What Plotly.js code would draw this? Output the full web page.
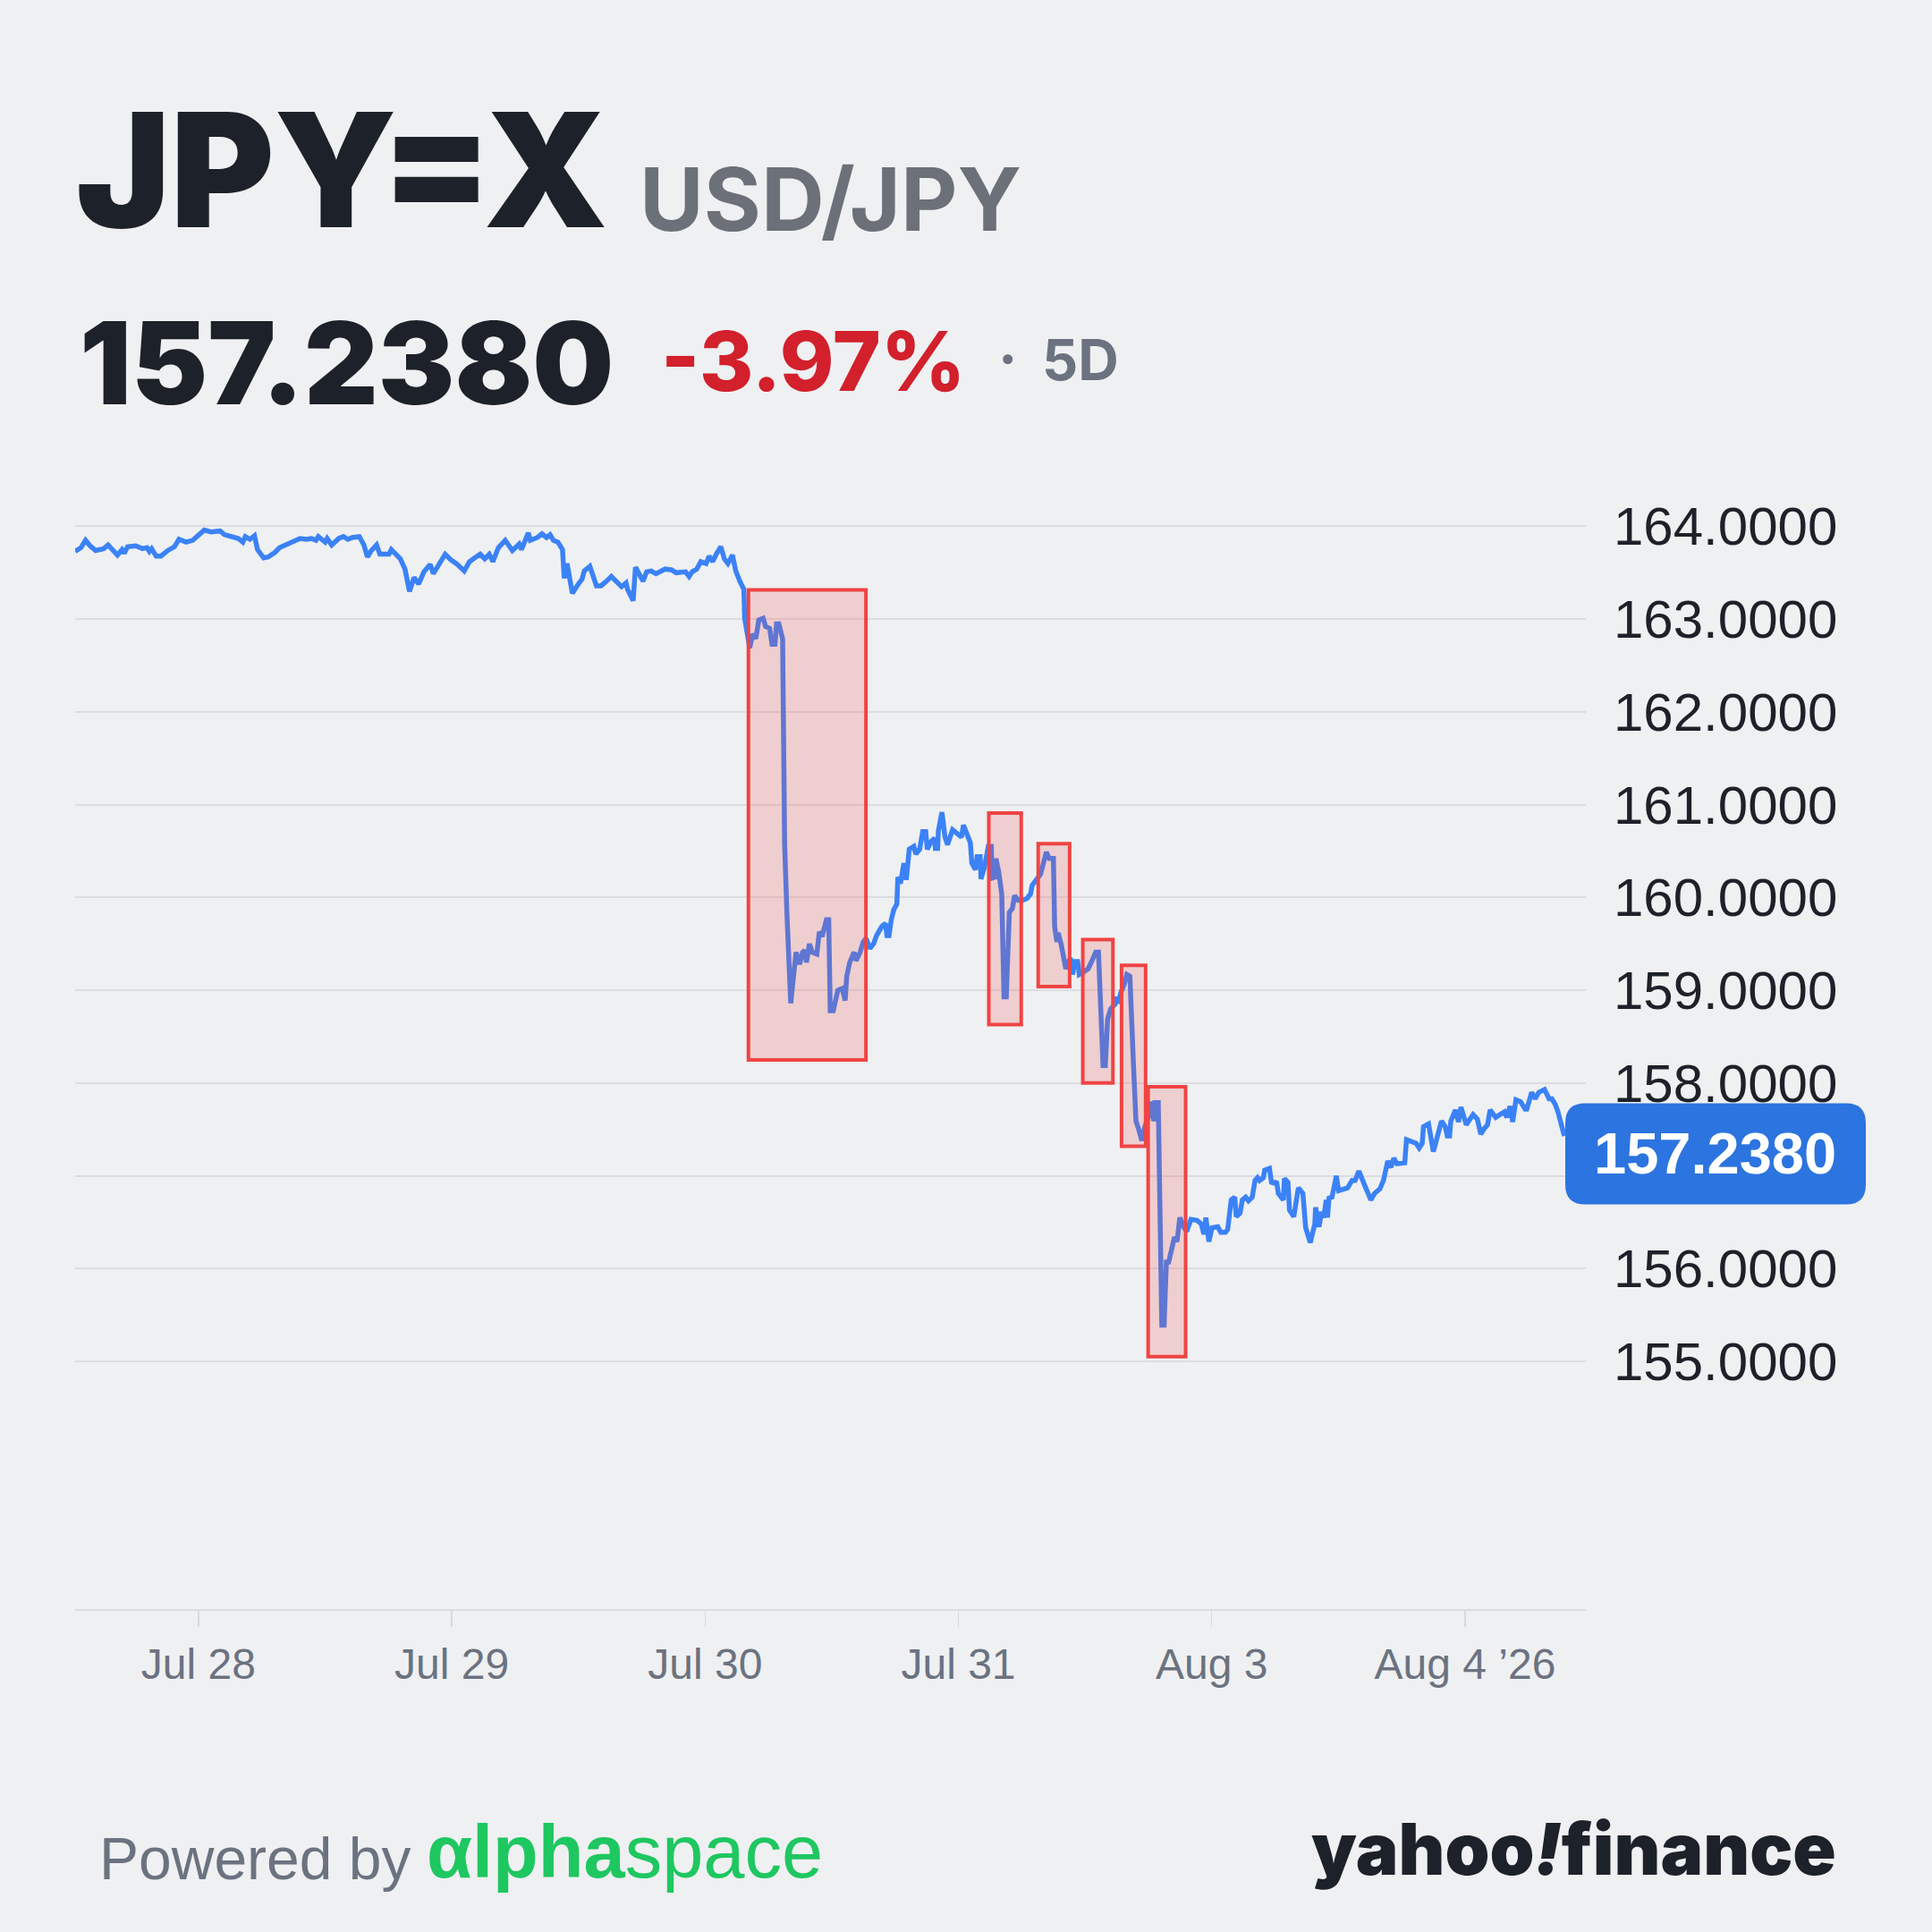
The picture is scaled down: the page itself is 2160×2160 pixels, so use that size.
<!DOCTYPE html>
<html><head><meta charset="utf-8">
<script src="https://cdn.plot.ly/plotly-3.0.1.min.js"></script>
<style>html,body{margin:0;padding:0;background:#eff0f2;}#chart{width:2160px;height:2160px;}</style>
</head><body><div id="chart"></div>
<script>
// ---- data (trading-day offset from Jul 28, USD/JPY rate) ----
const dayPos = [
-0.487,-0.464,-0.446,-0.428,-0.406,-0.374,-0.357,-0.320,-0.302,-0.293,
-0.280,-0.248,-0.221,-0.203,-0.194,-0.185,-0.167,-0.148,-0.121,-0.095,
-0.077,-0.049,-0.023,0.005,0.023,0.049,0.085,0.103,0.139,0.157,
0.175,0.185,0.203,0.221,0.233,0.257,0.275,0.302,0.320,0.347,
0.365,0.401,0.427,0.446,0.464,0.473,0.500,0.508,0.526,0.554,
0.572,0.590,0.607,0.635,0.653,0.667,0.680,0.703,0.716,0.752,
0.761,0.779,0.797,0.815,0.833,0.851,0.869,0.890,0.915,0.927,
0.950,0.974,0.996,1.022,1.049,1.070,1.095,1.112,1.130,1.148,
1.162,1.184,1.211,1.229,1.239,1.266,1.275,1.302,1.310,1.338,
1.356,1.374,1.388,1.401,1.419,1.437,1.444,1.455,1.476,1.500,
1.514,1.523,1.545,1.571,1.589,1.607,1.630,1.670,1.688,1.694,
1.716,1.725,1.743,1.755,1.769,1.787,1.806,1.824,1.842,1.868,
1.886,1.923,1.937,1.949,1.967,1.983,2.004,2.016,2.030,2.044,
2.062,2.076,2.090,2.108,2.121,2.137,2.153,2.156,2.168,2.176,
2.188,2.200,2.212,2.229,2.239,2.255,2.264,2.276,2.282,2.291,
2.306,2.312,2.314,2.323,2.338,2.347,2.359,2.373,2.385,2.394,
2.400,2.412,2.423,2.441,2.451,2.462,2.479,2.488,2.494,2.506,
2.518,2.524,2.541,2.553,2.559,2.571,2.588,2.596,2.612,2.624,
2.635,2.651,2.665,2.677,2.698,2.712,2.718,2.726,2.735,2.745,
2.757,2.761,2.771,2.785,2.794,2.806,2.824,2.832,2.847,2.859,
2.871,2.877,2.894,2.906,2.909,2.918,2.921,2.935,2.947,2.957,
2.977,2.994,3.012,3.020,3.036,3.047,3.053,3.067,3.074,3.086,
3.089,3.103,3.118,3.130,3.133,3.145,3.148,3.159,3.171,3.180,
3.189,3.195,3.201,3.213,3.222,3.236,3.253,3.271,3.285,3.291,
3.306,3.324,3.333,3.347,3.359,3.375,3.380,3.389,3.394,3.406,
3.424,3.442,3.451,3.459,3.471,3.477,3.495,3.512,3.526,3.542,
3.553,3.565,3.571,3.580,3.589,3.601,3.619,3.624,3.630,3.642,
3.654,3.665,3.677,3.691,3.701,3.712,3.724,3.736,3.754,3.763,
3.771,3.775,3.789,3.795,3.803,3.812,3.821,3.830,3.842,3.853,
3.863,3.874,3.889,3.901,3.918,3.942,3.959,3.969,3.977,3.989,
4.001,4.018,4.024,4.036,4.054,4.063,4.071,4.077,4.091,4.097,
4.112,4.121,4.134,4.145,4.160,4.171,4.181,4.189,4.204,4.209,
4.228,4.236,4.248,4.256,4.263,4.283,4.287,4.301,4.307,4.324,
4.342,4.360,4.371,4.389,4.407,4.410,4.424,4.433,4.442,4.452,
4.457,4.463,4.475,4.492,4.501,4.536,4.554,4.566,4.581,4.595,
4.628,4.643,4.664,4.678,4.695,4.707,4.719,4.731,4.748,4.762,
4.769,4.789,4.807,4.819,4.831,4.836,4.856,4.875,4.889,4.907,
4.922,4.930,4.939,4.944,4.962,4.974,4.984,5.005,5.017,5.032,
5.049,5.062,5.076,5.089,5.099,5.121,5.138,5.156,5.165,5.178,
5.188,5.201,5.219,5.237,5.244,5.263,5.277,5.291,5.314,5.332,
5.343,5.356,5.367,5.380,5.392
];
const rates = [
163.73,163.77,163.85,163.79,163.74,163.76,163.80,163.69,163.75,163.71,
163.78,163.79,163.76,163.77,163.73,163.76,163.68,163.68,163.74,163.78,
163.86,163.83,163.85,163.91,163.96,163.94,163.95,163.91,163.88,163.87,
163.83,163.89,163.86,163.90,163.75,163.66,163.67,163.72,163.77,163.80,
163.83,163.87,163.86,163.87,163.85,163.89,163.83,163.87,163.80,163.87,
163.89,163.86,163.88,163.89,163.80,163.67,163.73,163.80,163.70,163.70,
163.75,163.69,163.65,163.54,163.30,163.45,163.38,163.51,163.59,163.49,
163.59,163.70,163.64,163.59,163.52,163.62,163.67,163.70,163.65,163.70,
163.62,163.77,163.85,163.78,163.74,163.81,163.75,163.93,163.85,163.88,
163.92,163.88,163.91,163.85,163.83,163.75,163.44,163.60,163.28,163.38,
163.43,163.52,163.57,163.36,163.36,163.40,163.46,163.35,163.39,163.32,
163.20,163.56,163.48,163.41,163.51,163.52,163.49,163.51,163.54,163.53,
163.50,163.51,163.46,163.51,163.54,163.62,163.60,163.68,163.62,163.70,
163.78,163.65,163.60,163.69,163.52,163.41,163.32,163.01,162.79,162.69,
162.84,162.79,162.99,163.01,162.92,162.90,162.73,162.73,162.95,162.95,
162.79,161.68,160.57,159.83,158.86,159.10,159.41,159.28,159.41,159.43,
159.30,159.50,159.41,159.39,159.63,159.58,159.76,159.76,158.78,158.78,
158.91,159.00,159.02,158.89,159.15,159.30,159.41,159.32,159.41,159.52,
159.56,159.45,159.50,159.59,159.69,159.72,159.59,159.59,159.76,159.87,
159.93,160.22,160.15,160.37,160.19,160.52,160.55,160.47,160.52,160.71,
160.71,160.52,160.61,160.64,160.53,160.53,160.72,160.92,160.65,160.57,
160.73,160.69,160.65,160.78,160.68,160.59,160.37,160.30,160.44,160.44,
160.20,160.33,160.55,160.55,160.21,160.22,160.42,160.28,160.04,158.93,
158.93,159.55,159.84,159.88,160.02,159.97,159.97,159.99,160.04,160.13,
160.18,160.25,160.34,160.49,160.42,160.42,159.68,159.52,159.62,159.49,
159.23,159.35,159.17,159.31,159.31,159.17,159.20,159.23,159.31,159.41,
159.41,158.69,158.19,158.19,158.69,158.80,158.85,158.93,158.86,158.98,
159.06,159.17,159.15,158.20,157.59,157.50,157.38,157.53,157.66,157.80,
157.59,157.79,157.79,156.76,155.39,155.39,156.07,156.07,156.20,156.34,
156.29,156.55,156.45,156.40,156.53,156.52,156.48,156.37,156.55,156.29,
156.44,156.44,156.45,156.39,156.39,156.42,156.65,156.74,156.77,156.56,
156.60,156.74,156.77,156.73,156.77,156.95,156.98,156.95,156.98,157.06,
157.08,156.93,156.92,156.94,156.81,156.74,156.97,156.93,156.63,156.56,
156.87,156.81,156.44,156.28,156.48,156.66,156.45,156.61,156.55,156.74,
156.55,156.76,156.77,157.00,156.84,156.87,156.95,156.95,157.05,156.95,
156.74,156.81,156.86,156.95,157.16,157.09,157.19,157.13,157.13,157.14,
157.39,157.37,157.35,157.30,157.35,157.53,157.56,157.26,157.40,157.59,
157.53,157.43,157.43,157.59,157.71,157.58,157.74,157.55,157.60,157.66,
157.61,157.45,157.51,157.55,157.71,157.63,157.66,157.69,157.63,157.75,
157.58,157.82,157.80,157.72,157.72,157.90,157.83,157.90,157.93,157.83,
157.83,157.77,157.69,157.53,157.43
];
const tickDays = [0, 1, 2, 3, 4, 5];
const tickLabels = ["Jul 28", "Jul 29", "Jul 30", "Jul 31", "Aug 3", "Aug 4 \u201926"];
const priceTicks = [155, 156, 157, 158, 159, 160, 161, 162, 163, 164];
// highlighted drop zones
const boxStart = [2.171, 3.120, 3.315, 3.491, 3.644, 3.749];
const boxEnd   = [2.635, 3.248, 3.439, 3.610, 3.739, 3.897];
const boxLow   = [158.25, 158.63, 159.04, 158.00, 157.32, 155.05];
const boxHigh  = [163.315, 160.91, 160.58, 159.545, 159.27, 157.96];
const symbol = "JPY=X", pairName = "USD/JPY", lastPrice = 157.2380, changePct = -3.97, periodLabel = "5D";

// ---- layout geometry ----
const W = 2160, H = 2160, L = 84, R = 1773, T = 547, B = 1799;
const yMin = 152.33, yMax = 164.4, xMin = -0.487, xMax = 5.477;
const xp = px => (px - L) / (R - L);
const yp = py => (B - py) / (B - T);
const SANS = "Liberation Sans, Arial, sans-serif";
const HEAVY = "Inter, Liberation Sans, sans-serif";

function txt(text, x, y, size, color, weight, family, xanchor) {
  return {text: text, x: xp(x), y: yp(y), xref: 'paper', yref: 'paper',
    xanchor: xanchor || 'left', yanchor: 'middle', showarrow: false, borderpad: 0,
    font: {size: size, color: color, weight: weight, family: family}};
}

const shapes = boxStart.map((s, i) => ({
  type: 'rect', xref: 'x', yref: 'y', x0: s, x1: boxEnd[i], y0: boxLow[i], y1: boxHigh[i],
  fillcolor: 'rgba(239,68,68,0.2)', line: {color: '#ef4444', width: 4}, layer: 'above'
}));

// rounded price tag
const tagYc = (lastPrice - yMin) / (yMax - yMin);
const hh = 56.5 / (B - T), x0 = xp(1750), x1 = xp(2086), rx = 22 / (R - L), ry = 22 / (B - T);
const y0 = tagYc - hh, y1 = tagYc + hh;
shapes.push({
  type: 'path', xref: 'paper', yref: 'paper', layer: 'above', fillcolor: '#2c74df', line: {width: 0},
  path: `M ${x0+rx},${y1} L ${x1-rx},${y1} Q ${x1},${y1} ${x1},${y1-ry} L ${x1},${y0+ry} Q ${x1},${y0} ${x1-rx},${y0} L ${x0+rx},${y0} Q ${x0},${y0} ${x0},${y0+ry} L ${x0},${y1-ry} Q ${x0},${y1} ${x0+rx},${y1} Z`
});

const annotations = [
  txt(symbol, 84, 190, 177, '#1d2129', 900, HEAVY),
  txt(pairName, 714, 222, 98, '#6b7079', 700, HEAVY),
  txt(lastPrice.toFixed(4), 88, 405, 128, '#1d2129', 900, HEAVY),
  txt((changePct < 0 ? '-' : '+') + Math.abs(changePct).toFixed(2) + '%', 738, 404, 92, '#d2202c', 800, HEAVY),
  txt('\u00b7', 1126, 400, 64, '#6b7280', 700, HEAVY, 'center'),
  txt(periodLabel, 1164, 402, 63, '#6b7280', 700, HEAVY),
  {text: lastPrice.toFixed(4), x: xp(1918), y: lastPrice, xref: 'paper', yref: 'y', xanchor: 'center', yanchor: 'middle',
   showarrow: false, font: {size: 65, color: '#ffffff', weight: 700, family: SANS}},
  txt('Powered by', 110, 2078, 66, '#6b7280', 400, SANS),
  txt('<b>\u03b1lpha</b>space', 476, 2070, 83, '#1ec760', 400, SANS),
  txt('yahoo<i>!</i>finance', 2054, 2066, 80, '#1d2129', 900, HEAVY, 'right')
];

const trace = {
  x: dayPos, y: rates, type: 'scatter', mode: 'lines',
  line: {color: '#3b82f6', width: 5.5}, hoverinfo: 'skip'
};

const layout = {
  width: W, height: H, paper_bgcolor: '#eff0f2', plot_bgcolor: '#eff0f2',
  margin: {l: L, r: W - R, t: T, b: H - B, pad: 0}, showlegend: false,
  xaxis: {range: [xMin, xMax], tickvals: tickDays, ticktext: tickLabels, showgrid: false, zeroline: false,
    showline: true, linecolor: '#dcdde3', linewidth: 2, ticks: 'outside', ticklen: 18, tickwidth: 1.5,
    tickcolor: '#d8d9df', ticklabelstandoff: 0, tickfont: {family: SANS, size: 48, color: '#6b7280'}},
  yaxis: {range: [yMin, yMax], side: 'right', tickvals: priceTicks,
    ticktext: priceTicks.map(v => (Math.abs(v - lastPrice) < 0.5 ? '' : v.toFixed(4))),
    showgrid: true, gridcolor: '#dcdde2', gridwidth: 2, zeroline: false, showline: false, ticks: '',
    ticklabelstandoff: 30, tickfont: {family: SANS, size: 60, color: '#1d2129'}},
  shapes: shapes, annotations: annotations
};

Plotly.newPlot('chart', [trace], layout, {staticPlot: true, displayModeBar: false});
</script></body></html>
